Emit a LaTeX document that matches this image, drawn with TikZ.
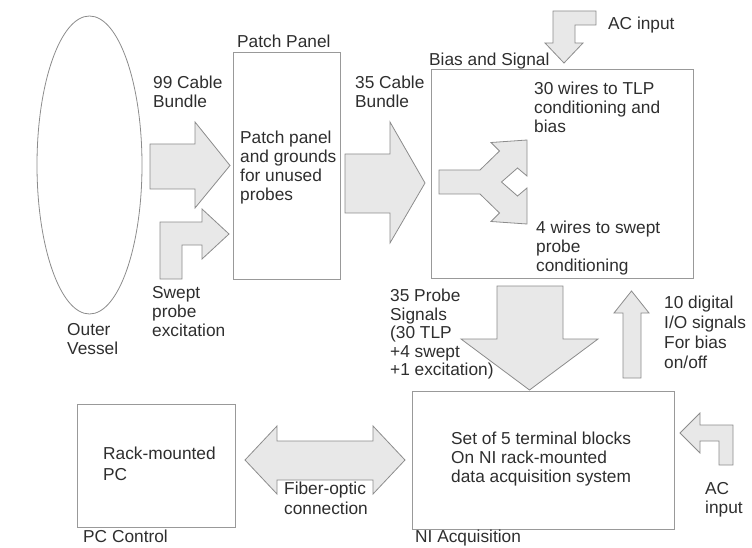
\documentclass[tikz,border=0pt]{standalone}
\usepackage{fontspec}
\setmainfont{Liberation Sans}
\usetikzlibrary{shapes.geometric}
\definecolor{txt}{HTML}{2E2E2E}
\definecolor{edge}{HTML}{8C8C8C}
\definecolor{boxedge}{HTML}{999999}
\definecolor{afill}{HTML}{E8E8E8}
\tikzset{
  lbl/.style={anchor=north west, inner sep=0pt, align=left, text=txt,
    font=\fontsize{17.3}{19}\selectfont},
  blockbox/.style={draw=boxedge, line width=0.9pt, rectangle, inner sep=0pt},
  blockarrow/.style={draw=edge, fill=afill, line width=0.8pt, line join=miter},
}
\begin{document}
\begin{tikzpicture}[x=1pt,y=-1pt]
\useasboundingbox (0,0) rectangle (752,548);

% containers
\node[draw=edge, line width=0.8pt, ellipse, minimum width=105, minimum height=298, inner sep=0pt] (vessel) at (89.5,165) {};
\node[blockbox, minimum width=107, minimum height=227] (patch) at (286.5,165.5) {};
\node[blockbox, minimum width=262, minimum height=209] (bias) at (562,173.5) {};
\node[blockbox, minimum width=262, minimum height=138] (ni) at (543,460) {};
\node[blockbox, minimum width=158, minimum height=123] (pc) at (156,465.5) {};

% block arrows
\draw[blockarrow] (150,144) -- (195,144) -- (195,122) -- (230,165.5) -- (195,208) -- (195,189) -- (150,189) -- cycle;
\draw[blockarrow] (160,279) -- (160,222) -- (202,222) -- (202,209) -- (229,234) -- (202,259) -- (202,245) -- (182,245) -- (182,279) -- cycle;
\draw[blockarrow] (345,154) -- (390,154) -- (390,122) -- (425,183) -- (390,243) -- (390,213) -- (345,213) -- cycle;
\draw[blockarrow] (439,170) -- (480,170) -- (499.5,151) -- (491,142.5) -- (527,140) -- (527,176) -- (517.5,168) -- (501.5,182) -- (517.5,196) -- (527,188) -- (527,224) -- (491,221.5) -- (499.5,213) -- (480,194) -- (439,194) -- cycle;
\draw[blockarrow] (596,11) -- (596,25) -- (575,25) -- (575,43) -- (583,43) -- (564,63) -- (545,43) -- (553,43) -- (553,11) -- cycle;
\draw[blockarrow] (497,286) -- (563,286) -- (563,339) -- (598,339) -- (529.5,390) -- (461,339) -- (497,339) -- cycle;
\draw[blockarrow] (623,378) -- (623,313) -- (614,313) -- (631.5,291) -- (649,313) -- (641,313) -- (641,378) -- cycle;
\draw[blockarrow] (680,433) -- (700,413) -- (700,425) -- (733,425) -- (733,465) -- (719,465) -- (719,441) -- (700,441) -- (700,453) -- cycle;
\draw[blockarrow] (245,460) -- (277,426) -- (277,441) -- (373,441) -- (373,426) -- (405,460) -- (373,494) -- (373,480) -- (277,480) -- (277,494) -- cycle;

% labels
\node[lbl] (lpatch) at (237,35) {Patch Panel};
\node[lbl] (lbias) at (429,53) {Bias and Signal};
\node[lbl] (lni) at (415,530) {NI Acquisition};
\node[lbl] (lpc) at (83,530) {PC Control};
\node[lbl] (lvessel) at (67,323) {Outer\\Vessel};
\node[lbl] (l99) at (153,76) {99 Cable\\Bundle};
\node[lbl] (l35) at (355,76) {35 Cable\\Bundle};
\node[lbl] (lswept) at (152,286) {Swept\\probe\\excitation};
\node[lbl] (tpatch) at (240,131) {Patch panel\\and grounds\\for unused\\probes};
\node[lbl] (ttlp) at (534,82) {30 wires to TLP\\conditioning and\\bias};
\node[lbl] (tswept) at (536,221) {4 wires to swept\\probe\\conditioning};
\node[lbl] (lac1) at (608,17) {AC input};
\node[lbl, font=\fontsize{17.3}{18.5}\selectfont] (lprobe) at (390,289) {35 Probe\\Signals\\(30 TLP\\+4 swept\\+1 excitation)};
\node[lbl, font=\fontsize{17.3}{20}\selectfont] (ldig) at (664,296) {10 digital\\I/O signals\\For bias\\on/off};
\node[lbl] (tni) at (451,432) {Set of 5 terminal blocks\\On NI rack-mounted\\data acquisition system};
\node[lbl, font=\fontsize{17.3}{21}\selectfont] (tpc) at (103,447) {Rack-mounted\\PC};
\node[lbl, font=\fontsize{17.3}{20}\selectfont, fill=white, inner xsep=2pt, inner ysep=1pt] (lfiber) at (282,481) {Fiber-optic\\connection};
\node[lbl] (lac2) at (705,482) {AC\\input};
\end{tikzpicture}
\end{document}
